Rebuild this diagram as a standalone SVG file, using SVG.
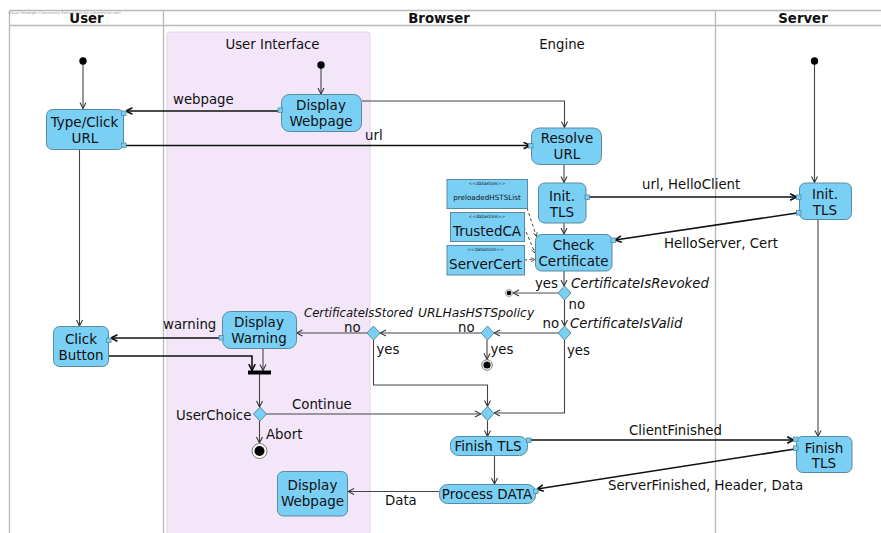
<svg xmlns="http://www.w3.org/2000/svg" width="881" height="533" viewBox="0 0 881 533">
<style>
text{font-family:"DejaVu Sans",sans-serif;fill:#111;font-size:13.300px}
.m{text-anchor:middle}
.nt{font-size:13.500px;text-anchor:middle}
.h{font-weight:bold;font-size:13.300px;text-anchor:middle}
.i{font-style:italic}
.n{fill:#7acff5;stroke:#5a8aa0;stroke-width:1}
.pin{fill:#7acff5;stroke:#5a8aa0;stroke-width:.8}
.lane{stroke:#b8b8b8;stroke-width:1.300;fill:none}
.c{fill:none;stroke:#444;stroke-width:1.100}
.t{fill:none;stroke:#111;stroke-width:1.600}
.d{fill:none;stroke:#333;stroke-width:.9;stroke-dasharray:3 2.500}
.st{font-size:4.500px;text-anchor:middle}
</style>
<defs>
<marker id="a" viewBox="0 0 10 10" refX="9.500" refY="5" markerWidth="7.500" markerHeight="7.500" markerUnits="userSpaceOnUse" orient="auto"><path d="M1.500 1L9.500 5L1.500 9" fill="none" stroke="#333" stroke-width="1.400"/></marker>
<marker id="b" viewBox="0 0 10 10" refX="9.500" refY="5" markerWidth="8" markerHeight="8" markerUnits="userSpaceOnUse" orient="auto"><path d="M1.500 1L9.500 5L1.500 9" fill="none" stroke="#111" stroke-width="2"/></marker>
<marker id="e" viewBox="0 0 10 10" refX="9.500" refY="5" markerWidth="5" markerHeight="5" markerUnits="userSpaceOnUse" orient="auto"><path d="M1.500 1L9.500 5L1.500 9" fill="none" stroke="#333" stroke-width="1.500"/></marker>
</defs>
<rect x="167" y="32" width="203" height="502" rx="3" fill="#f3e6f8" stroke="#e3d3ea" stroke-width="1"/>
<g id="lanes">
<path class="lane" d="M9.500 10.500H881M9.500 25.500H881M9.500 10.500V533M163.500 10.500V533M715.500 10.500V533"/>
<text class="h" x="86.500" y="23">User</text>
<text class="h" x="439" y="23">Browser</text>
<text class="h" x="803" y="23">Server</text>
<text x="8" y="13.500" style="font-size:3.700px;fill:#999">Visual Paradigm Community Edition (not for commercial use)</text>
<text class="m" x="272.500" y="49">User Interface</text>
<text class="m" x="562" y="49">Engine</text>
</g>
<g id="connectors">
<path class="c" d="M83 61V108.500" marker-end="url(#a)"/>
<path class="c" d="M321 65V94" marker-end="url(#a)"/>
<path class="c" d="M814.500 61V182.500" marker-end="url(#a)"/>
<path class="c" d="M79.500 149.500V326" marker-end="url(#a)"/>
<path class="t" d="M279 111H126" marker-end="url(#b)"/>
<path class="t" d="M125 145.500H530" marker-end="url(#b)"/>
<path class="c" d="M362 101H564.500V127.500" marker-end="url(#a)"/>
<path class="c" d="M564 164V182.500" marker-end="url(#a)"/>
<path class="c" d="M564 223V234" marker-end="url(#a)"/>
<path class="t" d="M588 197H796.500" marker-end="url(#b)"/>
<path class="t" d="M797 213L615 240" marker-end="url(#b)"/>
<path class="d" d="M527 208L536.500 236.500" marker-end="url(#e)"/>
<path class="d" d="M524 227L535 253" marker-end="url(#e)"/>
<path class="d" d="M524 260L535 259.500" marker-end="url(#e)"/>
<path class="c" d="M564 271V286" marker-end="url(#a)"/>
<path class="c" d="M564.500 300V326" marker-end="url(#a)"/>
<path class="c" d="M558 293H513" marker-end="url(#a)" style="stroke:#888;stroke-width:1.500"/>
<path class="c" d="M558 333H494" marker-end="url(#a)"/>
<path class="c" d="M481 333H380" marker-end="url(#a)"/>
<path class="c" d="M367 333H296.500" marker-end="url(#a)"/>
<path class="c" d="M487 340V359.500" marker-end="url(#a)"/>
<path class="c" d="M373.500 340V385H487.500V406.500" marker-end="url(#a)"/>
<path class="c" d="M564.500 340V413H494" marker-end="url(#a)"/>
<path class="t" d="M219 338H111" marker-end="url(#b)"/>
<path class="t" d="M109 356H252V370.500" marker-end="url(#b)"/>
<path class="c" d="M263 348.500V370.500" marker-end="url(#a)"/>
<path class="c" d="M259.500 374V407" marker-end="url(#a)"/>
<path class="c" d="M266 414H481" marker-end="url(#a)"/>
<path class="c" d="M259.500 421V443" marker-end="url(#a)"/>
<path class="c" d="M487.500 420V436.500" marker-end="url(#a)"/>
<path class="t" d="M529 440H793.500" marker-end="url(#b)"/>
<path class="c" d="M818 219V436.500" marker-end="url(#a)"/>
<path class="c" d="M494.500 455V484" marker-end="url(#a)"/>
<path class="t" d="M795 449L537 489" marker-end="url(#b)"/>
<path class="c" d="M439 491.500H348" marker-end="url(#a)"/>
</g>
<g id="start1"><circle cx="83" cy="61" r="3.700" fill="#000"/></g>
<g id="start2"><circle cx="321" cy="65" r="3.700" fill="#000"/></g>
<g id="start3"><circle cx="814.500" cy="61" r="3.700" fill="#000"/></g>
<g id="typeclick"><rect class="n" x="46.500" y="109.500" width="77" height="40" rx="6"/><text class="nt" x="84.500" y="127">Type/Click</text><text class="nt" x="85" y="142.500">URL</text><rect class="pin" x="121.500" y="111" width="4.500" height="4.500"/><rect class="pin" x="121.500" y="143" width="4.500" height="4.500"/></g>
<g id="display1"><rect class="n" x="281.500" y="94.500" width="80" height="37" rx="8"/><text class="nt" x="321" y="110">Display</text><text class="nt" x="321" y="126">Webpage</text><rect class="pin" x="278" y="108" width="4.500" height="4.500"/></g>
<g id="resolve"><rect class="n" x="531.500" y="128" width="70" height="36.500" rx="8"/><text class="nt" x="567" y="143">Resolve</text><text class="nt" x="567" y="159">URL</text><rect class="pin" x="528.500" y="143.500" width="4.500" height="4.500"/></g>
<g id="inittls"><rect class="n" x="538.500" y="183" width="47.500" height="40" rx="6"/><text class="nt" x="562" y="201">Init.</text><text class="nt" x="562" y="217">TLS</text><rect class="pin" x="585" y="195" width="4.500" height="4.500"/></g>
<g id="check"><rect class="n" x="535.500" y="234.500" width="76.500" height="36.500" rx="6"/><text class="nt" x="573.500" y="250">Check</text><text class="nt" x="573.500" y="265.500">Certificate</text><rect class="pin" x="611" y="238" width="4.500" height="4.500"/></g>
<g id="inittls2"><rect class="n" x="799.500" y="183" width="52" height="36.500" rx="6"/><text class="nt" x="825" y="199">Init.</text><text class="nt" x="825" y="214.500">TLS</text><rect class="pin" x="796.500" y="195" width="4.500" height="4.500"/><rect class="pin" x="796.500" y="210.500" width="4.500" height="4.500"/></g>
<g id="preloaded"><rect class="n" x="447" y="179.500" width="80.500" height="29"/><text class="st" x="487" y="185">&lt;&lt;datastore&gt;&gt;</text><text class="m" x="487" y="200" style="font-size:7.200px">preloadedHSTSList</text></g>
<g id="trusted"><rect class="n" x="450.500" y="212.500" width="74" height="29"/><text class="st" x="487" y="218">&lt;&lt;datastore&gt;&gt;</text><text class="nt" x="487" y="235.500">TrustedCA</text></g>
<g id="servercert"><rect class="n" x="447" y="245.500" width="77.500" height="29.500"/><text class="st" x="485.500" y="251">&lt;&lt;datastore&gt;&gt;</text><text class="nt" x="485.500" y="268.500">ServerCert</text></g>
<g id="d1"><path class="n" d="M564.500 286L571 293L564.500 300L558 293Z"/></g>
<g id="d2"><path class="n" d="M564.500 326L571 333L564.500 340L558 333Z"/></g>
<g id="d3"><path class="n" d="M487.500 326L494 333L487.500 340L481 333Z"/></g>
<g id="d4"><path class="n" d="M373.500 326L380 333L373.500 340L367 333Z"/></g>
<g id="d5"><path class="n" d="M487.500 406.500L494 413.500L487.500 420.500L481 413.500Z"/></g>
<g id="d6"><path class="n" d="M260 407L266.500 414L260 421L253.500 414Z"/></g>
<g id="end1"><circle cx="509" cy="293" r="3.500" fill="#fff" stroke="#999"/><circle cx="509" cy="293" r="2.300" fill="#000"/></g>
<g id="end2"><circle cx="487" cy="365" r="5.300" fill="#fff" stroke="#777"/><circle cx="487" cy="365" r="3.600" fill="#000"/></g>
<g id="end3"><circle cx="259.500" cy="451" r="7.500" fill="#fff" stroke="#777"/><circle cx="259.500" cy="451" r="5" fill="#000"/></g>
<g id="click"><rect class="n" x="53.500" y="326.500" width="55" height="40" rx="6"/><text class="nt" x="81" y="344">Click</text><text class="nt" x="81" y="359.500">Button</text><rect class="pin" x="106.500" y="338" width="4.500" height="4.500"/></g>
<g id="warning"><rect class="n" x="222.500" y="311.500" width="74" height="37" rx="8"/><text class="nt" x="259" y="327">Display</text><text class="nt" x="259" y="343">Warning</text><rect class="pin" x="219" y="335.500" width="4.500" height="4.500"/></g>
<g id="fork"><rect x="248" y="370.500" width="23" height="4" fill="#000"/></g>
<g id="finish"><rect class="n" x="450.500" y="436.500" width="77" height="19" rx="8"/><text class="nt" x="488" y="450.500">Finish TLS</text><rect class="pin" x="526.500" y="438" width="4.500" height="4.500"/></g>
<g id="finish2"><rect class="n" x="796.500" y="436.500" width="55.500" height="36" rx="6"/><text class="nt" x="824" y="453">Finish</text><text class="nt" x="824" y="468">TLS</text><rect class="pin" x="793.500" y="437" width="4.500" height="4.500"/><rect class="pin" x="793.500" y="446" width="4.500" height="4.500"/></g>
<g id="process"><rect class="n" x="439.500" y="484.500" width="96" height="19" rx="8"/><text class="nt" x="487" y="498.500">Process DATA</text><rect class="pin" x="533.500" y="489" width="4.500" height="4.500"/></g>
<g id="display2"><rect class="n" x="277.500" y="471.500" width="70" height="44.500" rx="6"/><text class="nt" x="312.500" y="490">Display</text><text class="nt" x="312.500" y="505.500">Webpage</text></g>
<g id="labels">
<text x="173" y="104">webpage</text>
<text x="365" y="140">url</text>
<text x="642" y="189">url, HelloClient</text>
<text x="664" y="248">HelloServer, Cert</text>
<text x="535" y="288">yes</text>
<text class="i" x="571" y="288">CertificateIsRevoked</text>
<text x="568.500" y="309">no</text>
<text x="542.500" y="328">no</text>
<text class="i" x="570" y="328">CertificateIsValid</text>
<text class="i" x="304" y="317" style="font-size:11.700px">CertificateIsStored</text>
<text class="i" x="418" y="317" style="font-size:12.300px">URLHasHSTSpolicy</text>
<text x="458" y="331.500">no</text>
<text x="344" y="332">no</text>
<text x="376.500" y="354">yes</text>
<text x="490.500" y="354">yes</text>
<text x="567" y="355">yes</text>
<text x="163" y="329">warning</text>
<text x="176" y="420">UserChoice</text>
<text x="292" y="409">Continue</text>
<text x="266" y="438.500">Abort</text>
<text x="629" y="435">ClientFinished</text>
<text x="608" y="490">ServerFinished, Header, Data</text>
<text x="385" y="504.500">Data</text>
</g>
</svg>
